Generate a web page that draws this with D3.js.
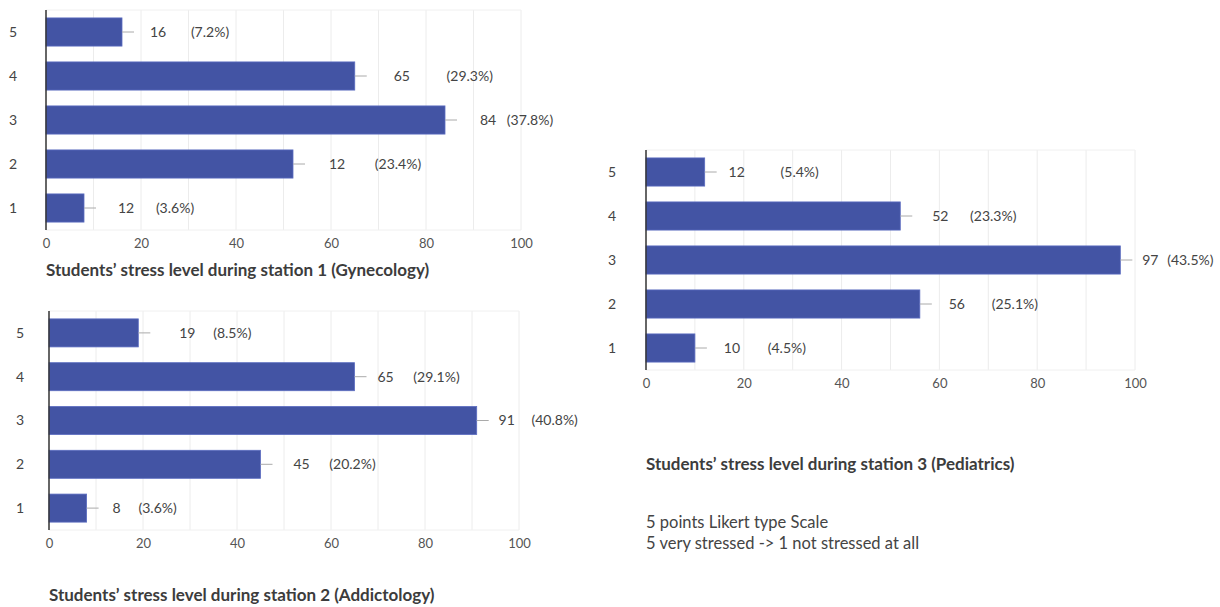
<!DOCTYPE html>
<html>
<head>
<meta charset="utf-8">
<script src="https://cdn.jsdelivr.net/npm/d3@7"></script>
<style>
  body { margin: 0; background: #fff; }
  svg { display: block; font-family: Lato, "Open Sans", sans-serif; }
</style>
</head>
<body>
<div id="chart"></div>
<script>
// Likert levels, bottom to top
const categories = ["1", "2", "3", "4", "5"];
const xTicks = [0, 20, 40, 60, 80, 100];

// station 1 (Gynecology)
const gynValues = [8, 52, 84, 65, 16];
const gynCounts = ["12", "12", "84", "65", "16"];
const gynPct = ["(3.6%)", "(23.4%)", "(37.8%)", "(29.3%)", "(7.2%)"];

// station 2 (Addictology)
const addValues = [8, 45, 91, 65, 19];
const addCounts = ["8", "45", "91", "65", "19"];
const addPct = ["(3.6%)", "(20.2%)", "(40.8%)", "(29.1%)", "(8.5%)"];

// station 3 (Pediatrics)
const pedValues = [10, 56, 97, 52, 12];
const pedCounts = ["10", "56", "97", "52", "12"];
const pedPct = ["(4.5%)", "(25.1%)", "(43.5%)", "(23.3%)", "(5.4%)"];

const titles = [
  "Students\u2019 stress level during station 1 (Gynecology)",
  "Students\u2019 stress level during station 2 (Addictology)",
  "Students\u2019 stress level during station 3 (Pediatrics)"
];
const noteLines = [
  "5 points Likert type Scale",
  "5 very stressed -> 1 not stressed at all"
];

const width = 1220, height = 607;
const barColor = "#4354a4";

const svg = d3.select("#chart").append("svg")
  .attr("width", width)
  .attr("height", height);

// one panel per station; label shifts are hand placed as in the source
const panels = [
  { values: gynValues, counts: gynCounts, pct: gynPct, title: titles[0],
    x0: 46, x1: 521, top: 10, bottom: 230, catX: 13, titleY: 276,
    countDx: [42, 44, 43, 47, 36], pctDx: [49, 61, 42, 68, 52] },
  { values: addValues, counts: addCounts, pct: addPct, title: titles[1],
    x0: 49, x1: 519, top: 311, bottom: 530, catX: 20, titleY: 601,
    countDx: [30, 41, 30, 31, 49], pctDx: [41, 51, 48, 51, 45] },
  { values: pedValues, counts: pedCounts, pct: pedPct, title: titles[2],
    x0: 646, x1: 1135, top: 150, bottom: 370, catX: 612, titleY: 470,
    countDx: [37, 37, 30, 40, 32], pctDx: [55, 58, 40, 53, 63] }
];

panels.forEach((p) => {
  const g = svg.append("g");

  const x = d3.scaleLinear().domain([0, 100]).range([p.x0, p.x1]);
  const y = d3.scaleBand()
    .domain(categories.slice().reverse())
    .range([p.top, p.bottom])
    .paddingInner(0.36)
    .paddingOuter(0.18);

  // light grid, every 10
  g.append("g")
    .selectAll("line")
    .data(d3.range(10, 101, 10))
    .join("line")
    .attr("x1", (d) => x(d)).attr("x2", (d) => x(d))
    .attr("y1", p.top).attr("y2", p.bottom)
    .attr("stroke", "#ececec")
    .attr("stroke-width", 1);

  // frame top / bottom
  g.append("line")
    .attr("x1", p.x0).attr("x2", p.x1)
    .attr("y1", p.top).attr("y2", p.top)
    .attr("stroke", "#f0f0f0");
  g.append("line")
    .attr("x1", p.x0).attr("x2", p.x1)
    .attr("y1", p.bottom).attr("y2", p.bottom)
    .attr("stroke", "#f0f0f0");

  // x axis labels
  const xAxis = d3.axisBottom(x).tickValues(xTicks).tickSize(0).tickPadding(9);
  const ax = g.append("g")
    .attr("transform", `translate(0,${p.bottom})`)
    .call(xAxis);
  ax.select(".domain").remove();
  ax.selectAll("text")
    .attr("fill", "#555")
    .style("font-size", "13px")
    .style("font-family", "Lato, sans-serif");

  // bars
  const rows = categories.map((c, i) => ({
    cat: c, value: p.values[i], count: p.counts[i], pct: p.pct[i],
    cdx: p.countDx[i], pdx: p.pctDx[i]
  }));

  g.append("g")
    .selectAll("rect")
    .data(rows)
    .join("rect")
    .attr("x", x(0))
    .attr("y", (d) => y(d.cat))
    .attr("width", (d) => x(d.value) - x(0))
    .attr("height", y.bandwidth())
    .attr("fill", barColor)
    .attr("stroke", "#5b6cc0")
    .attr("stroke-width", 0.8);

  // small leader after each bar
  g.append("g")
    .selectAll("line")
    .data(rows)
    .join("line")
    .attr("x1", (d) => x(d.value))
    .attr("x2", (d) => x(d.value) + 12)
    .attr("y1", (d) => y(d.cat) + y.bandwidth() / 2)
    .attr("y2", (d) => y(d.cat) + y.bandwidth() / 2)
    .attr("stroke", "#aaa")
    .attr("stroke-width", 1);

  // count + percent labels
  const lab = g.append("g")
    .attr("fill", "#444")
    .style("font-size", "14px");
  lab.selectAll("text.count")
    .data(rows)
    .join("text")
    .attr("class", "count")
    .attr("text-anchor", "middle")
    .attr("x", (d) => x(d.value) + d.cdx)
    .attr("y", (d) => y(d.cat) + y.bandwidth() / 2)
    .attr("dy", "0.35em")
    .text((d) => d.count);
  lab.selectAll("text.pct")
    .data(rows)
    .join("text")
    .attr("class", "pct")
    .attr("text-anchor", "middle")
    .attr("x", (d) => x(d.value) + d.cdx + d.pdx)
    .attr("y", (d) => y(d.cat) + y.bandwidth() / 2)
    .attr("dy", "0.35em")
    .text((d) => d.pct);

  // category labels
  g.append("g")
    .selectAll("text")
    .data(categories)
    .join("text")
    .attr("x", p.catX)
    .attr("y", (d) => y(d) + y.bandwidth() / 2)
    .attr("dy", "0.35em")
    .attr("text-anchor", "middle")
    .attr("fill", "#444")
    .style("font-size", "14px")
    .text((d) => d);

  // left axis line
  g.append("line")
    .attr("x1", x(0)).attr("x2", x(0))
    .attr("y1", p.top).attr("y2", p.bottom)
    .attr("stroke", "#333")
    .attr("stroke-width", 1.5);

  // title under the chart
  g.append("text")
    .attr("x", p.x0)
    .attr("y", p.titleY)
    .attr("fill", "#3c3c3c")
    .style("font-size", "17px")
    .style("font-weight", "bold")
    .text(p.title);
});

// note about the scale
svg.append("g")
  .selectAll("text")
  .data(noteLines)
  .join("text")
  .attr("x", 646)
  .attr("y", (d, i) => 528 + i * 21)
  .attr("fill", "#444")
  .style("font-size", "16.5px")
  .text((d) => d);
</script>
</body>
</html>
